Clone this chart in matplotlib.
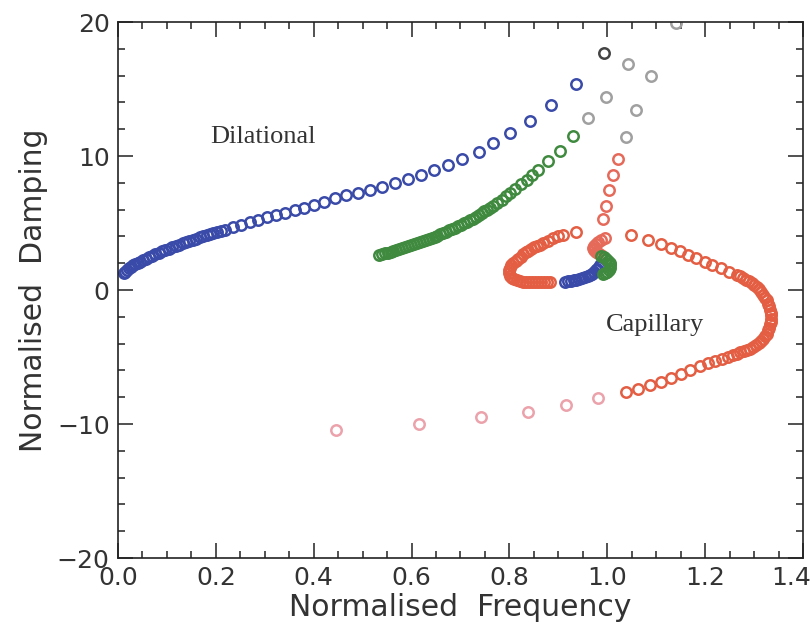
import numpy as np
import matplotlib.pyplot as plt
from matplotlib.ticker import MultipleLocator
from matplotlib.transforms import ScaledTranslation

# dilational branch (blue)
blue_dil_x = [0.012, 0.015, 0.018, 0.022, 0.026, 0.030, 0.035, 0.040, 0.045, 0.051,
              0.057, 0.063, 0.069, 0.076, 0.083, 0.090, 0.097, 0.104, 0.111, 0.118,
              0.125, 0.132, 0.139, 0.146, 0.153, 0.160, 0.167, 0.174, 0.181, 0.188,
              0.195, 0.202, 0.210, 0.218, 0.235, 0.252, 0.269, 0.287, 0.305, 0.323,
              0.342, 0.361, 0.380, 0.400, 0.421, 0.444, 0.467, 0.491, 0.515, 0.540,
              0.566, 0.592, 0.619, 0.646, 0.674, 0.703, 0.737, 0.767, 0.802, 0.842,
              0.885, 0.936]
blue_dil_y = [1.25, 1.38, 1.50, 1.63, 1.74, 1.83, 1.93, 2.02, 2.11, 2.22,
              2.33, 2.44, 2.55, 2.66, 2.77, 2.88, 2.98, 3.08, 3.18, 3.28,
              3.38, 3.48, 3.57, 3.66, 3.75, 3.84, 3.93, 4.01, 4.09, 4.17,
              4.25, 4.33, 4.41, 4.50, 4.70, 4.88, 5.06, 5.24, 5.42, 5.60,
              5.78, 5.96, 6.14, 6.33, 6.55, 6.90, 7.08, 7.24, 7.44, 7.68,
              7.96, 8.26, 8.58, 8.94, 9.33, 9.78, 10.30, 10.97, 11.70, 12.60,
              13.80, 15.40]

# second dilational branch (green)
green_x = [0.533, 0.539, 0.545, 0.551, 0.557, 0.563, 0.569, 0.575, 0.581, 0.587,
           0.593, 0.599, 0.605, 0.611, 0.617, 0.623, 0.629, 0.635, 0.641, 0.647,
           0.653, 0.659, 0.665, 0.671, 0.677, 0.683, 0.689, 0.695, 0.701, 0.707,
           0.713, 0.719, 0.725, 0.731, 0.737, 0.743, 0.749, 0.755, 0.761, 0.767,
           0.775, 0.784, 0.793, 0.802, 0.812, 0.823, 0.835, 0.847, 0.859, 0.879,
           0.904, 0.930]
green_y = [2.61, 2.67, 2.73, 2.79, 2.85, 2.91, 2.98, 3.04, 3.11, 3.18,
           3.26, 3.33, 3.41, 3.49, 3.57, 3.65, 3.73, 3.81, 3.89, 3.97,
           4.06, 4.15, 4.25, 4.35, 4.45, 4.55, 4.65, 4.76, 4.87, 4.98,
           5.09, 5.20, 5.32, 5.45, 5.58, 5.72, 5.86, 6.00, 6.14, 6.28,
           6.48, 6.73, 7.00, 7.27, 7.56, 7.88, 8.24, 8.60, 8.96, 9.60,
           10.40, 11.50]

# faded upper points
grey_x = [0.960, 0.997, 1.038, 1.058, 1.089, 1.042, 1.140]
grey_y = [12.80, 14.40, 11.40, 13.40, 16.00, 16.90, 19.90]
dark_x = [0.993]
dark_y = [17.70]

# capillary branch (red), right loop
red_right_x = [1.048, 1.083, 1.109, 1.130, 1.148, 1.164, 1.181, 1.199, 1.215, 1.232,
               1.249, 1.266, 1.272, 1.278, 1.284, 1.290, 1.295, 1.300, 1.305, 1.311,
               1.315, 1.319, 1.323, 1.326, 1.329, 1.331, 1.332, 1.334, 1.334, 1.334,
               1.334, 1.332, 1.331, 1.329, 1.326, 1.323, 1.319, 1.315, 1.310, 1.304,
               1.298, 1.292, 1.286, 1.279, 1.272, 1.266, 1.257, 1.246, 1.234, 1.221,
               1.206, 1.189, 1.170, 1.150, 1.130, 1.109, 1.087, 1.063, 1.038]
red_right_y = [4.10, 3.73, 3.40, 3.13, 2.88, 2.65, 2.40, 2.12, 1.88, 1.62,
               1.36, 1.12, 1.01, 0.90, 0.78, 0.67, 0.52, 0.37, 0.22, 0.04,
               -0.15, -0.34, -0.56, -0.78, -1.01, -1.23, -1.46, -1.68, -1.90, -2.13,
               -2.35, -2.57, -2.80, -3.02, -3.25, -3.43, -3.62, -3.81, -3.96, -4.10,
               -4.24, -4.37, -4.48, -4.57, -4.66, -4.74, -4.86, -4.98, -5.12, -5.28,
               -5.46, -5.68, -5.95, -6.25, -6.55, -6.85, -7.12, -7.36, -7.58]

# red tail going left (faded)
red_tail_x = [0.981, 0.916, 0.838, 0.741, 0.615, 0.446]
red_tail_y = [-8.06, -8.58, -9.10, -9.48, -10.00, -10.45]

# red left arc
red_left_x = [0.937, 0.910, 0.899, 0.889, 0.879, 0.869, 0.863, 0.857, 0.850, 0.845,
              0.838, 0.833, 0.828, 0.823, 0.818, 0.813, 0.808, 0.804, 0.801, 0.799,
              0.799, 0.801, 0.805, 0.810, 0.816, 0.822, 0.828, 0.834, 0.840, 0.847,
              0.853, 0.859, 0.865, 0.871, 0.877, 0.883]
red_left_y = [4.35, 4.10, 4.03, 3.86, 3.68, 3.48, 3.39, 3.31, 3.19, 3.07,
              2.93, 2.80, 2.66, 2.50, 2.35, 2.19, 2.01, 1.83, 1.64, 1.46,
              1.27, 1.08, 0.93, 0.82, 0.73, 0.67, 0.63, 0.61, 0.60, 0.60,
              0.59, 0.58, 0.57, 0.57, 0.57, 0.57]

# red vertical branch near 1.0
red_mid_x = [1.022, 1.011, 1.003, 0.997, 0.991, 0.995, 0.988, 0.982, 0.976, 0.972,
             0.971, 0.973, 0.977, 0.982, 0.987]
red_mid_y = [9.80, 8.60, 7.50, 6.30, 5.30, 3.88, 3.72, 3.58, 3.45, 3.30,
             3.15, 3.00, 2.86, 2.74, 2.65]

# blue capillary segment
blue_cap_x = [0.913, 0.919, 0.925, 0.931, 0.937, 0.943, 0.949, 0.955, 0.960, 0.965,
              0.969, 0.973, 0.977, 0.980, 0.983, 0.985]
blue_cap_y = [0.62, 0.65, 0.69, 0.73, 0.78, 0.84, 0.90, 0.96, 1.04, 1.13,
              1.23, 1.34, 1.47, 1.60, 1.74, 1.88]

# green capillary blob
green_cap_x = [0.988, 0.993, 0.998, 1.002, 1.005, 1.006, 1.005, 1.003, 1.000, 0.996, 0.992]
green_cap_y = [2.55, 2.45, 2.32, 2.17, 2.00, 1.83, 1.66, 1.50, 1.36, 1.25, 1.18]

fig = plt.figure(figsize=(8.12, 6.36), dpi=100)
ax = fig.add_axes([0.1453, 0.1226, 0.8436, 0.8428])

mk = dict(marker='o', linestyle='none', markersize=7.5, markeredgewidth=1.8,
          markerfacecolor='none')

ax.plot(red_tail_x, red_tail_y, markeredgecolor='#eba2ab', **mk)
ax.plot(grey_x, grey_y, markeredgecolor='#a0a0a0', **mk)
ax.plot(dark_x, dark_y, markeredgecolor='#444444', **mk)
ax.plot(blue_dil_x, blue_dil_y, markeredgecolor='#3a4aa8', **mk)
ax.plot(green_x, green_y, markeredgecolor='#3f8a3f', **mk)
ax.plot(red_right_x, red_right_y, markeredgecolor='#e35e42', **mk)
ax.plot(red_left_x, red_left_y, markeredgecolor='#e35e42', **mk)
ax.plot(red_mid_x, red_mid_y, markeredgecolor='#e66a5a', **mk)
ax.plot(blue_cap_x, blue_cap_y, markeredgecolor='#3a4aa8', **mk)
ax.plot(green_cap_x, green_cap_y, markeredgecolor='#3f8a3f', **mk)

ax.text(0.296, 11.4, 'Dilational', family='Liberation Serif', fontsize=19,
        color='#333333', ha='center', va='center')
ax.text(1.098, -2.6, 'Capillary', family='Liberation Serif', fontsize=19,
        color='#333333', ha='center', va='center')

ax.set_xlim(0.0, 1.4)
ax.set_ylim(-20, 20)
ax.xaxis.set_major_locator(MultipleLocator(0.2))
ax.xaxis.set_minor_locator(MultipleLocator(0.05))
ax.yaxis.set_major_locator(MultipleLocator(10))
ax.yaxis.set_minor_locator(MultipleLocator(2))
ax.xaxis.set_major_formatter(plt.FuncFormatter(lambda v, p: f'{v:.1f}'))
ax.yaxis.set_major_formatter(plt.FuncFormatter(lambda v, p: f'{v:.0f}'.replace('-', '\u2212')))

ax.tick_params(which='both', direction='in', top=True, right=True,
               labelsize=18, color='#222222', labelcolor='#333333', width=1.1)
ax.tick_params(which='major', length=11, pad=6)
ax.tick_params(which='minor', length=5)
for s in ax.spines.values():
    s.set_linewidth(1.2)
    s.set_color('#222222')

ax.set_xlabel('Normalised  Frequency', fontsize=21.5, color='#333333', labelpad=2)
ax.set_ylabel('Normalised  Damping', fontsize=21.5, color='#333333', labelpad=6)

# the 1.4 label sits against the right edge, nudge it left
fig.canvas.draw()
for lab in ax.get_xticklabels():
    if lab.get_text() == '1.4':
        lab.set_horizontalalignment('right')
        lab.set_transform(lab.get_transform() + ScaledTranslation(8 / 100, 0, fig.dpi_scale_trans))

fig.savefig('out.png', dpi=100)
